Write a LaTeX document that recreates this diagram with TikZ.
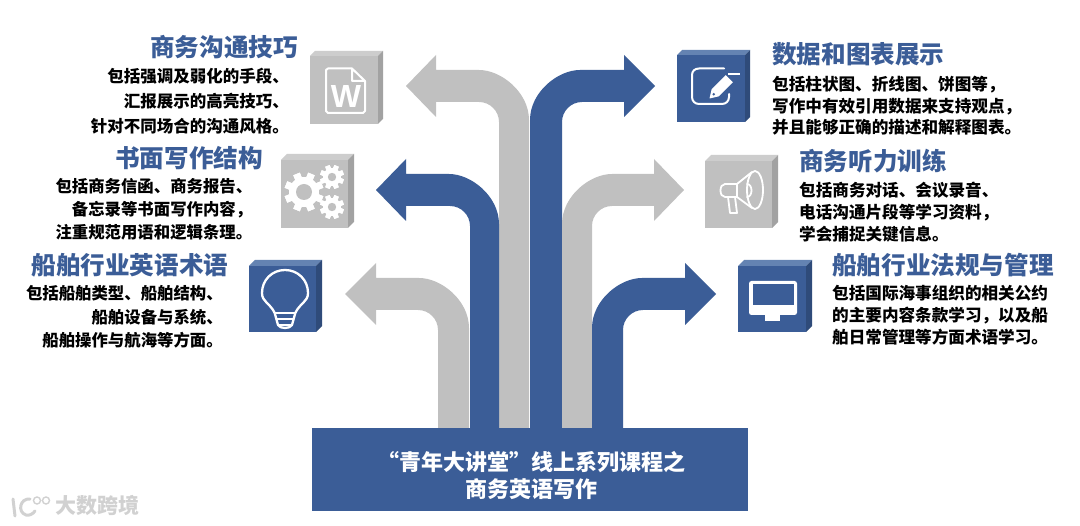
\documentclass[tikz,border=0pt]{standalone}
\usepackage{fontspec}
\setmainfont{Noto Sans CJK SC}
\newfontfamily\wfont{Liberation Sans}
\definecolor{mainblue}{HTML}{3B5D97}
\definecolor{maingrey}{HTML}{C0C0C0}
\definecolor{bluetop}{HTML}{6483B2}
\definecolor{blueside}{HTML}{2F4B7A}
\definecolor{greytop}{HTML}{CDCDCD}
\definecolor{greyside}{HTML}{A2A2A2}
\tikzset{
  heading/.style={text=mainblue,inner sep=0pt,font=\fontsize{24.6pt}{28pt}\selectfont\bfseries},
  bodyR/.style={text=black,inner sep=0pt,align=right,anchor=east},
  bodyL/.style={text=black,inner sep=0pt,align=left,anchor=west},
  iconline/.style={draw=white,line width=2pt,line join=round,line cap=round},
  iconfill/.style={fill=white,draw=none},
}
% colour, tip x, tip y, head back x, outer x, inner x, sign
\newcommand\bentarrow[7]{%
  \fill[#1] (#5,428) -- ({#5},{#3+34}) .. controls ({#5},{#3+6.4}) and ({#5+#7*27.6},{#3-16}) .. ({#5+#7*50},{#3-16})
    -- ({#4},{#3-16}) -- ({#4},{#3-31}) -- ({#2},{#3}) -- ({#4},{#3+31}) -- ({#4},{#3+16})
    -- ({#6+#7*20},{#3+16}) .. controls ({#6+#7*9},{#3+16}) and ({#6},{#3+25}) .. ({#6},{#3+36}) -- (#6,428) -- cycle;}
% front colour, top colour, side colour, x0,y0,x1,y1,depth
\newcommand\cube[8]{%
  \fill[#2] (#4,#5) -- ({#4+#8},{#5-#8}) -- ({#6+#8},{#5-#8}) -- (#6,#5) -- cycle;
  \fill[#3] (#6,#5) -- ({#6+#8},{#5-#8}) -- ({#6+#8},{#7-#8}) -- (#6,#7) -- cycle;
  \fill[#1] (#4,#5) rectangle (#6,#7);}
% centre x, centre y, outer radius, body radius, hole radius, tooth half width, background
\newcommand\gear[7]{%
  \foreach \a in {0,45,...,315}{\fill[white,rotate around={\a+22.5:(#1,#2)}] ({#1-#6},{#2-#3}) rectangle ({#1+#6},{#2+#3});}
  \fill[white] (#1,#2) circle[radius=#4 pt];
  \fill[#7] (#1,#2) circle[radius=#5 pt];}
\begin{document}
\begin{tikzpicture}[x=1pt,y=-1pt]
\useasboundingbox (0,0) rectangle (1080,526);
\fill[white] (0,0) rectangle (1080,526);
% arrows
\bentarrow{maingrey}{406}{86}{436}{529}{499}{-1}
\bentarrow{mainblue}{376}{190}{406}{499}{470}{-1}
\bentarrow{maingrey}{345}{294}{376}{469}{438}{-1}
\bentarrow{mainblue}{655}{86}{624}{530}{562}{1}
\bentarrow{maingrey}{684}{190}{654}{562}{592}{1}
\bentarrow{mainblue}{716}{294}{685}{592}{623}{1}
% base
\fill[mainblue] (312,428) rectangle (748,511);
\node[text=white,inner sep=0pt,align=center,font=\fontsize{22pt}{27pt}\selectfont\bfseries] (base) at (531,475.5) {“青年大讲堂”线上系列课程之\\商务英语写作};
% cubes
\cube{maingrey}{greytop}{greyside}{310}{56}{378}{124}{5}
\cube{maingrey}{greytop}{greyside}{281}{160}{348}{228}{6}
\cube{mainblue}{bluetop}{blueside}{249}{266}{316}{332}{6}
\cube{mainblue}{bluetop}{blueside}{677}{55}{745}{122}{5}
\cube{maingrey}{greytop}{greyside}{705}{161}{772}{228}{6}
\cube{mainblue}{bluetop}{blueside}{738}{266}{806}{332}{6}
% document icon
\draw[iconline,line cap=butt] (352,68.5) -- (328,68.5) -- (326,70) -- (326,111) -- (328,113) -- (363,113) -- (365,111) -- (365,81) -- (352,68.5) -- (352,81) -- (365,81);
\node[text=white,inner sep=0pt,font=\wfont\fontsize{32pt}{32pt}\selectfont\bfseries] (w) at (346,96) {W};
% gears
\gear{304}{192}{19.5}{15}{8}{3.5}{maingrey}
\gear{332}{177}{12}{9}{4.2}{2.4}{maingrey}
\gear{332}{207}{12}{9}{4.2}{2.4}{maingrey}
% bulb
\draw[iconline,line width=2.3pt] (274.7,313) .. controls (270,303) and (262,302) .. (262,293) .. controls (262,280) and (272,270) .. (285,270) .. controls (298,270) and (308,280) .. (308,293) .. controls (308,302) and (300,303) .. (295.3,313) -- (292,325) .. controls (290,329) and (280,329) .. (278,325) -- cycle;
\draw[iconline,line width=2pt] (275,313) -- (295,313) (277,319.3) -- (293,319.3) (279,325) -- (291,325);
% edit icon
\draw[iconline] (724,68.5) -- (699,68.5) .. controls (695,68.5) and (692,71) .. (692,75) -- (692,97) .. controls (692,101) and (695,104) .. (699,104) -- (722,104) .. controls (726,104) and (729,101) .. (729,97) -- (729,94);
\begin{scope}[shift={(709.5,98.5)},x={(.707pt,.707pt)},y={(.707pt,-.707pt)}]
  \fill[white] (0,0) -- (8,-5) -- (28,-5) -- (28,5) -- (8,5) -- cycle;
  \fill[white] (30.5,-5) rectangle (38,5);
  \fill[mainblue] (6,0) circle[radius=1.3pt];
\end{scope}
% megaphone
\draw[iconline,line width=1.8pt] (755,190) ellipse[x radius=8pt,y radius=19pt];
\draw[iconline,line width=1.8pt] (752,172) -- (737,184) -- (725,184) .. controls (722,184) and (720.5,187) .. (720.5,190.5) .. controls (720.5,194) and (722,197) .. (725,197) -- (737,197) -- (752,208);
\draw[iconline,line width=1.8pt] (737,184) -- (737,197);
\draw[iconline,line width=1.8pt] (728,197) -- (730,213) -- (737,213) -- (735,197);
\draw[iconline,line width=1.8pt] (747,184) .. controls (753,184) and (753,197) .. (747,197);
% monitor
\fill[white,rounded corners=2.5pt] (749,281) rectangle (797,315);
\fill[mainblue] (752.5,284) rectangle (793.5,305);
\fill[white] (765,315) rectangle (780,321);
% texts left
\node[heading,anchor=east] (h1) at (298,47) {商务沟通技巧};
\node[bodyR,font=\fontsize{16.5pt}{25pt}\selectfont\bfseries] (b1) at (289,101) {包括强调及弱化的手段、\\汇报展示的高亮技巧、\\针对不同场合的沟通风格。};
\node[heading,anchor=east] (h2) at (263,158) {书面写作结构};
\node[bodyR,font=\fontsize{16.4pt}{23pt}\selectfont\bfseries] (b2) at (252.5,209) {包括商务信函、商务报告、\\备忘录等书面写作内容，\\注重规范用语和逻辑条理。};
\node[heading,anchor=east] (h3) at (228.5,265) {船舶行业英语术语};
\node[bodyR,font=\fontsize{16.4pt}{23.5pt}\selectfont\bfseries] (b3) at (223,317) {包括船舶类型、船舶结构、\\船舶设备与系统、\\船舶操作与航海等方面。};
% texts right
\node[heading,anchor=west] (h4) at (772,54) {数据和图表展示};
\node[bodyL,font=\fontsize{16.6pt}{21.5pt}\selectfont\bfseries] (b4) at (772,106) {包括柱状图、折线图、饼图等，\\写作中有效引用数据来支持观点，\\并且能够正确的描述和解释图表。};
\node[heading,anchor=west] (h5) at (799,161) {商务听力训练};
\node[bodyL,font=\fontsize{16.6pt}{22pt}\selectfont\bfseries] (b5) at (799,212) {包括商务对话、会议录音、\\电话沟通片段等学习资料，\\学会捕捉关键信息。};
\node[heading,anchor=west] (h6) at (832,265) {船舶行业法规与管理};
\node[bodyL,font=\fontsize{16.6pt}{22pt}\selectfont\bfseries] (b6) at (832,315) {包括国际海事组织的相关公约\\的主要内容条款学习，以及船\\舶日常管理等方面术语学习。};
% watermark
\node[text=black!18,inner sep=0pt,anchor=west,font=\fontsize{21pt}{21pt}\selectfont\bfseries] (wm) at (55.5,505) {大数跨境};
\draw[black!18,line width=3pt,line cap=round] (13,499) -- (15,516);
\draw[black!18,line width=3pt,line cap=round] (30,499) .. controls (20,498) and (17,512) .. (26,515) .. controls (29,516) and (33,514) .. (35,511);
\draw[black!18,line width=1.4pt] (37,500.5) circle[radius=3.5pt] (46,500.5) circle[radius=3.5pt];
\end{tikzpicture}
\end{document}
